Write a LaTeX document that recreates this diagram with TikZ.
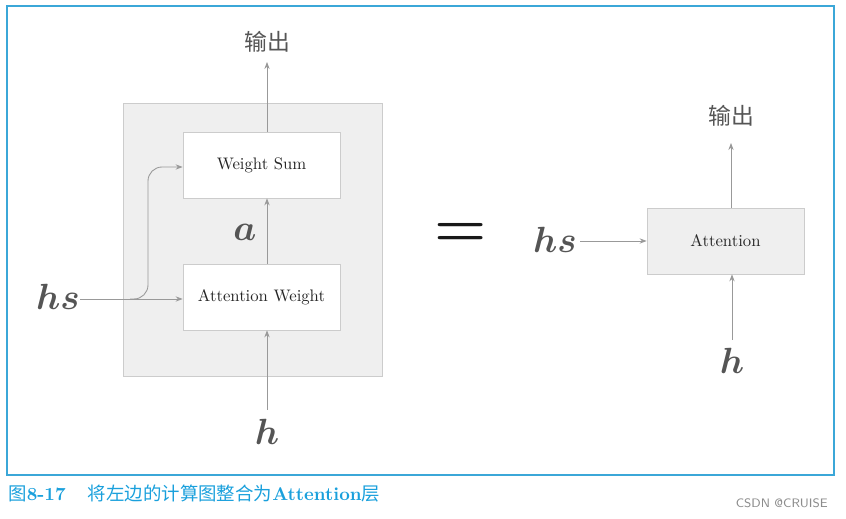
\documentclass[tikz,border=0pt]{standalone}
\usepackage{bm}
\usepackage{fontspec}
\newfontfamily\cjk{Noto Sans CJK SC}
\usetikzlibrary{arrows.meta}
\definecolor{frame}{HTML}{3BA7D8}
\definecolor{capc}{HTML}{1AA0DC}
\definecolor{boxg}{HTML}{EFEFEF}
\definecolor{edg}{HTML}{CCCCCC}
\definecolor{arr}{HTML}{999999}
\definecolor{txt}{HTML}{555555}
\begin{document}
\begin{tikzpicture}[x=0.02cm,y=-0.02cm,
  wbox/.style={draw=edg,fill=white,minimum width=157*0.02cm,minimum height=66*0.02cm,inner sep=0pt,font=\fontsize{9.5}{11}\selectfont,text=black!85},
  gbox/.style={wbox,fill=boxg},
  conn/.style={draw=arr,line width=0.5pt,-{Stealth[length=4pt,width=3pt]}},
  lab/.style={text=txt,font=\fontsize{20}{22}\selectfont},
  outlab/.style={text=txt,font=\cjk\fontsize{13}{15}\selectfont}]
\useasboundingbox (0,0) rectangle (846,519);
\draw[frame,line width=0.6pt] (7,6) rectangle (834,475);
\node[draw=edg,fill=boxg,minimum width=259*0.02cm,minimum height=273*0.02cm,inner sep=0pt] (grp) at (252.5,239.5) {};
\node[wbox] (ws) at (261.5,165) {Weight Sum};
\node[wbox] (aw) at (261.5,297) {Attention Weight};
\node[outlab] (o1) at (267,42) {输出};
\coordinate (o1b) at (267,62);
\node[lab] (a) at (245,232) {$\bm{a}$};
\node[lab] (h1) at (267,432) {$\bm{h}$};
\coordinate (h1t) at (267,410);
\node[lab] (hs1) at (58,297) {$\bm{hs}$};
\coordinate (hs1e) at (80,299);
\coordinate (br) at (130,299);
\draw[conn] (ws.north -| o1b) -- (o1b);
\draw[conn] (aw.north) ++(5.5,0) coordinate (awt) -- (awt |- ws.south);
\draw[conn] (h1t) -- (h1t |- aw.south);
\draw[conn] (hs1e) -- (hs1e -| aw.west);
\draw[conn,rounded corners=8pt] (br) -| (148,167) -- (ws.west |- 148,167);
\node[text=black!90,font=\fontsize{34}{36}\selectfont\bfseries] (eq) at (461,235) {=};
\node[gbox] (att) at (725.5,241) {Attention};
\node[lab] (hs2) at (555,240) {$\bm{hs}$};
\coordinate (hs2e) at (580,241);
\draw[conn] (hs2e) -- (att.west);
\node[outlab] (o2) at (731,116) {输出};
\coordinate (o2b) at (731,143);
\draw[conn] (att.north -| o2b) -- (o2b);
\node[lab] (h2) at (732,361) {$\bm{h}$};
\coordinate (h2t) at (732,340);
\draw[conn] (h2t) -- (h2t |- att.south);
\node[anchor=west,text=capc,inner sep=0pt,font=\fontsize{10.5}{12}\selectfont] (cap) at (8,494) {{\cjk 图}\textbf{8-17}\hspace{1.2em}{\cjk 将左边的计算图整合为}\textbf{Attention}{\cjk 层}};
\node[anchor=east,text=black!45,inner sep=0pt,font=\fontsize{7}{8}\selectfont\sffamily] (wm) at (828,503) {CSDN @CRUISE};
\end{tikzpicture}
\end{document}
